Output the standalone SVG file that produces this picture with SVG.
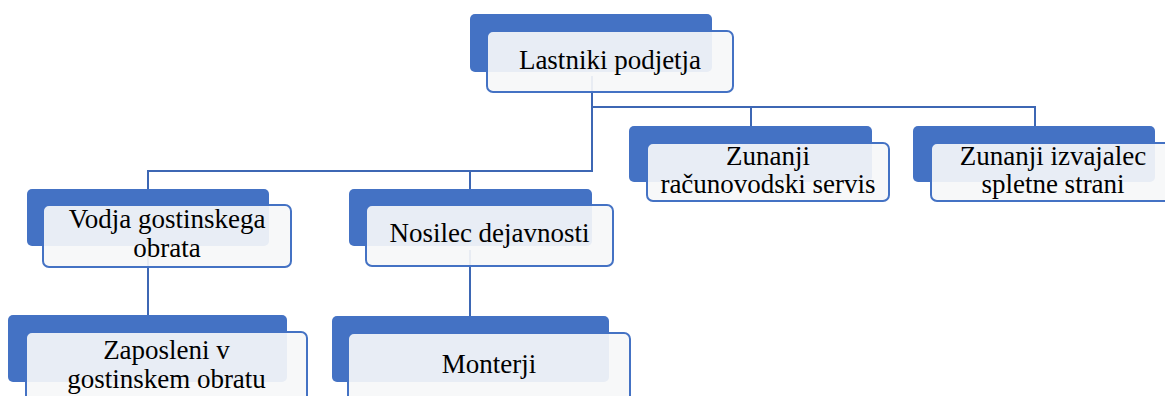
<svg xmlns="http://www.w3.org/2000/svg" width="1165" height="396" viewBox="0 0 1165 396">
  <style>
    .back { fill: #4472C4; }
    .card { fill: #F6F7F8; fill-opacity: 0.92; stroke: #4472C4; stroke-width: 2; }
    .label { font-family: "Liberation Serif", "Times New Roman", serif; font-size: 27px; fill: #000000; text-anchor: middle; }
    .link { fill: none; stroke: #3D67B4; stroke-width: 2; }
  </style>
  <rect width="1165" height="396" fill="#FFFFFF"/>

  <!-- connectors (drawn beneath the cards) -->
  <g id="connectors">
    <path class="link" d="M592,76 V107 H1035 V126"/>
    <path class="link" d="M751,107 V126"/>
    <path class="link" d="M592,107 V171 H148 V189"/>
    <path class="link" d="M470,171 V189"/>
    <path class="link" d="M148,250 V315"/>
    <path class="link" d="M470,250 V316"/>
  </g>

  <g id="lastniki">
    <rect class="back" x="470" y="14" width="242" height="58" rx="5"/>
    <rect class="card" x="487" y="31" width="246" height="61" rx="6"/>
    <text class="label" x="610" y="69">Lastniki podjetja</text>
  </g>

  <g id="racunovodski">
    <rect class="back" x="629" y="126" width="243" height="56" rx="5"/>
    <rect class="card" x="647" y="143" width="242" height="58" rx="6"/>
    <text class="label" x="768" y="165">Zunanji</text>
    <text class="label" x="768" y="193">računovodski servis</text>
  </g>

  <g id="izvajalec">
    <rect class="back" x="913" y="126" width="242" height="56" rx="5"/>
    <rect class="card" x="931" y="143" width="245" height="58" rx="6"/>
    <text class="label" x="1053" y="165">Zunanji izvajalec</text>
    <text class="label" x="1053" y="193">spletne strani</text>
  </g>

  <g id="vodja">
    <rect class="back" x="27" y="189" width="242" height="57" rx="5"/>
    <rect class="card" x="43" y="205" width="248" height="62" rx="6"/>
    <text class="label" x="167" y="228">Vodja gostinskega</text>
    <text class="label" x="167" y="257">obrata</text>
  </g>

  <g id="nosilec">
    <rect class="back" x="349" y="189" width="243" height="57" rx="5"/>
    <rect class="card" x="366" y="205" width="247" height="61" rx="6"/>
    <text class="label" x="489.5" y="242">Nosilec dejavnosti</text>
  </g>

  <g id="zaposleni">
    <rect class="back" x="8" y="315" width="279" height="67" rx="5"/>
    <rect class="card" x="26" y="332" width="281" height="80" rx="6"/>
    <text class="label" x="166.5" y="359">Zaposleni v</text>
    <text class="label" x="166.5" y="388">gostinskem obratu</text>
  </g>

  <g id="monterji">
    <rect class="back" x="332" y="316" width="277" height="66" rx="5"/>
    <rect class="card" x="348" y="333" width="282" height="80" rx="6"/>
    <text class="label" x="489" y="373">Monterji</text>
  </g>
</svg>
